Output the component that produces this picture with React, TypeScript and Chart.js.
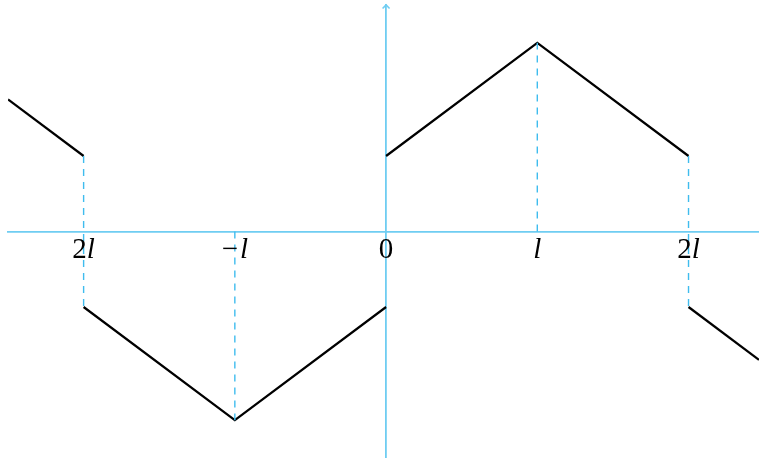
import React, { useEffect, useRef } from "react";
import { Chart, registerables } from "chart.js";

Chart.register(...registerables);

// Tick positions (multiples of l) and labels
const tickValues = [-2, -1, 0, 1, 2];
const tickLabels = ["2l", "\u2212l", "0", "l", "2l"];

// Solid segments (x in units of l, y in same units)
const segLeftX = [-2.5, -2];
const segLeftY = [0.875, 0.5];
const segNegX = [-2, -1, 0];
const segNegY = [-0.5, -1.25, -0.5];
const segPosX = [0, 1, 2];
const segPosY = [0.5, 1.25, 0.5];
const segRightX = [2, 2.466];
const segRightY = [-0.5, -0.85];

// Dashed vertical guides
const dashAX = [-2, -2];
const dashAY = [0.5, -0.5];
const dashBX = [-1, -1];
const dashBY = [0, -1.25];
const dashCX = [1, 1];
const dashCY = [0, 1.25];
const dashDX = [2, 2];
const dashDY = [0.5, -0.5];

const AXIS_COLOR = "#6fcdf2";
const DASH_COLOR = "#3fbcee";
const FONT_SIZE = 29;
const UPRIGHT = `${FONT_SIZE}px 'Liberation Serif', serif`;
const ITALIC = `italic ${FONT_SIZE}px 'Liberation Serif', serif`;

const pts = (xs: number[], ys: number[]) => xs.map((x, i) => ({ x, y: ys[i] }));

const solid = (xs: number[], ys: number[]) => ({
  data: pts(xs, ys),
  borderColor: "#000000",
  borderWidth: 2.2,
  pointRadius: 0,
  tension: 0,
  fill: false,
});
const dashed = (xs: number[], ys: number[]) => ({
  data: pts(xs, ys),
  borderColor: DASH_COLOR,
  borderWidth: 1.4,
  borderDash: [7, 6],
  pointRadius: 0,
  tension: 0,
  fill: false,
});

const arrowPlugin = {
  id: "yArrow",
  afterDraw(chart: any) {
    const ctx = chart.ctx;
    const xs = chart.scales.x;
    const ys = chart.scales.y;
    const x0 = xs.getPixelForValue(0);
    const top = ys.getPixelForValue(ys.max);
    ctx.save();
    ctx.strokeStyle = AXIS_COLOR;
    ctx.lineWidth = 1.6;
    ctx.beginPath();
    ctx.moveTo(x0 - 3.5, top + 3.5);
    ctx.lineTo(x0, top);
    ctx.lineTo(x0 + 3.5, top + 3.5);
    ctx.stroke();

    // Tick labels: digits and minus upright, "l" italic (math style)
    const axisY = ys.getPixelForValue(0);
    ctx.fillStyle = "#000000";
    ctx.textBaseline = "alphabetic";
    ctx.textAlign = "left";
    tickValues.forEach((v, i) => {
      const label = tickLabels[i];
      const parts = label.split("").map((ch) => ({ ch, font: ch === "l" ? ITALIC : UPRIGHT }));
      let total = 0;
      const widths = parts.map((p) => {
        ctx.font = p.font;
        const w = ctx.measureText(p.ch).width + (p.ch === "\u2212" ? 2 : 0);
        total += w;
        return w;
      });
      let x = xs.getPixelForValue(v) - total / 2;
      parts.forEach((p, k) => {
        ctx.font = p.font;
        ctx.fillText(p.ch, x, axisY + 26);
        x += widths[k];
      });
    });
    ctx.restore();
  },
};

export default function App() {
  const ref = useRef<HTMLCanvasElement | null>(null);
  useEffect(() => {
    if (!ref.current) return;
    const chart = new Chart(ref.current, {
      type: "line",
      data: {
        datasets: [
          dashed(dashAX, dashAY),
          dashed(dashBX, dashBY),
          dashed(dashCX, dashCY),
          dashed(dashDX, dashDY),
          solid(segLeftX, segLeftY),
          solid(segNegX, segNegY),
          solid(segPosX, segPosY),
          solid(segRightX, segRightY),
        ] as any,
      },
      options: {
        animation: false,
        responsive: false,
        maintainAspectRatio: false,
        layout: { padding: { left: 8, right: 0, top: 5, bottom: 0 } },
        plugins: { legend: { display: false }, tooltip: { enabled: false } },
        scales: {
          x: {
            type: "linear",
            position: { y: 0 } as any,
            min: -2.5,
            max: 2.466,
            grid: { display: false },
            border: { color: AXIS_COLOR, width: 1.8 },
            afterBuildTicks: (scale: any) => {
              scale.ticks = tickValues.map((v) => ({ value: v }));
            },
            ticks: { display: false },
          },
          y: {
            type: "linear",
            position: { x: 0 } as any,
            min: -1.5,
            max: 1.5,
            grid: { display: false },
            border: { color: AXIS_COLOR, width: 1.8 },
            ticks: { display: false },
          },
        },
      },
      plugins: [arrowPlugin],
    });
    return () => chart.destroy();
  }, []);
  return (
    <div style={{ position: "fixed", left: 0, top: 0, width: 759, height: 458, background: "#fff" }}>
      <canvas ref={ref} width={759} height={458} style={{ display: "block", width: 759, height: 458 }} />
    </div>
  );
}
